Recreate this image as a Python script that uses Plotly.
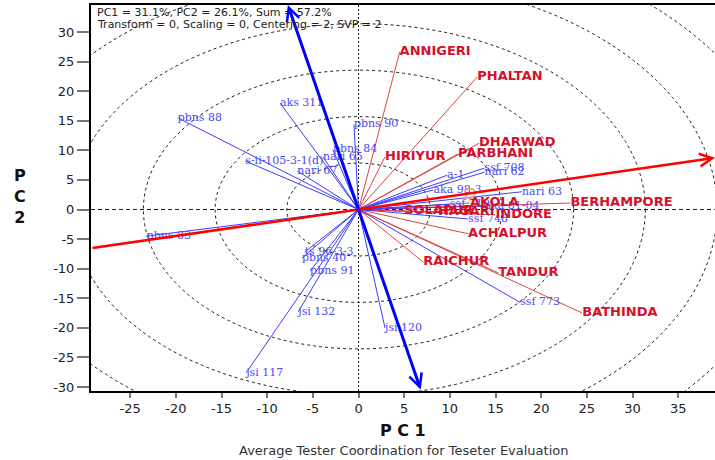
import plotly.graph_objects as go

# ---- GGE biplot scores (PC1, PC2) ----
env_names = ["ANNIGERI", "PHALTAN", "DHARWAD", "HIRIYUR", "PARBHANI", "BERHAMPORE",
             "AKOLA", "INDORE", "SOLAPUR", "HAGARI", "ACHALPUR", "RAICHUR",
             "TANDUR", "BATHINDA"]
env_pc1 = [4.5, 13.0, 13.2, 2.9, 10.9, 23.2, 12.2, 15.0, 5.0, 8.7, 12.0, 7.1, 15.3, 24.5]
env_pc2 = [26.6, 22.4, 11.2, 8.9, 9.4, 1.1, 1.1, -0.9, -0.25, -0.4, -4.1, -8.9, -10.7, -17.5]

gen_names = ["pbns 88", "aks 311", "pbns 90", "pbns 84", "nari 65", "s-ii-105-3-1(d)",
             "nari 67", "a-1", "ssf 708", "nari 62", "aka 98-3", "nari 63", "ssf 710",
             "aka 81-04", "ssf 748", "pbns 83", "ts 96-3-3", "pbns 40", "pbns 91",
             "jsi 132", "jsi 120", "jsi 117", "ssf 773"]
gen_pc1 = [-19.8, -8.6, -0.5, -2.8, -3.9, -12.4, -6.7, 9.7, 13.8, 13.8, 8.2, 17.9, 10.0,
           13.8, 12.0, -23.2, -5.9, -6.2, -5.3, -6.6, 2.9, -12.3, 17.7]
gen_pc2 = [15.5, 18.0, 14.4, 10.1, 8.9, 8.2, 6.5, 5.8, 7.0, 6.3, 3.3, 3.0, 0.9,
           0.6, -1.6, -4.5, -7.2, -8.2, -10.4, -17.3, -20.0, -27.6, -15.7]

# average environment coordinate (defines the ATC abscissa)
avg_env = (12.2, 2.73)

x_ticks = [-25, -20, -15, -10, -5, 0, 5, 10, 15, 20, 25, 30, 35]
y_ticks = [-30, -25, -20, -15, -10, -5, 0, 5, 10, 15, 20, 25, 30]

header = ["PC1 = 31.1%, PC2 = 26.1%, Sum = 57.2%",
          "Transform = 0, Scaling = 0, Centering = 2, SVP = 2"]

# ---- styling ----
X_RANGE = [-29.29, 39.03]
Y_RANGE = [-30.67, 34.56]
RING_STEP = 7.85
N_RINGS = 7
SANS = "DejaVu Sans"
SERIF = "DejaVu Serif"
ENV_LINE = "#d84444"
ENV_TEXT = "#d7102a"
GEN_LINE = "#3c3cff"
GEN_TEXT = "#4a4af2"
GUIDE = "#1a1a1a"


def spokes(xs, ys):
    px, py = [], []
    for a, b in zip(xs, ys):
        px += [0, a, None]
        py += [0, b, None]
    return px, py


fig = go.Figure()

ex, ey = spokes(env_pc1, env_pc2)
fig.add_trace(go.Scatter(x=ex, y=ey, mode="lines",
                         line=dict(color=ENV_LINE, width=1), hoverinfo="skip"))
gx, gy = spokes(gen_pc1, gen_pc2)
fig.add_trace(go.Scatter(x=gx, y=gy, mode="lines",
                         line=dict(color=GEN_LINE, width=1), hoverinfo="skip"))

fig.add_trace(go.Scatter(x=gen_pc1, y=gen_pc2, mode="text", text=gen_names,
                         textposition="middle right", cliponaxis=False,
                         textfont=dict(family=SERIF, size=11, color=GEN_TEXT)))
fig.add_trace(go.Scatter(x=env_pc1, y=env_pc2, mode="text", text=env_names,
                         textposition="middle right", cliponaxis=False,
                         textfont=dict(family=SANS, size=13, color=ENV_TEXT, weight="bold")))

# average environment marker
fig.add_trace(go.Scatter(x=[avg_env[0]], y=[avg_env[1]], mode="markers",
                         marker=dict(symbol="circle-open", size=10,
                                     line=dict(color="red", width=1.5)),
                         hoverinfo="skip"))

# concentric rings around the biplot origin
shapes = []
for k in range(1, N_RINGS + 1):
    r = RING_STEP * k
    shapes.append(dict(type="circle", xref="x", yref="y", x0=-r, x1=r, y0=-r, y1=r,
                       line=dict(color=GUIDE, width=1, dash="3px,3px"), layer="below"))
shapes.append(dict(type="line", xref="x", yref="y", x0=X_RANGE[0], x1=X_RANGE[1], y0=0, y1=0,
                   line=dict(color=GUIDE, width=1, dash="4px,3px"), layer="below"))
shapes.append(dict(type="line", xref="x", yref="y", x0=0, x1=0, y0=Y_RANGE[0], y1=Y_RANGE[1],
                   line=dict(color=GUIDE, width=1, dash="2px,2px"), layer="below"))

# ATC axes: abscissa through the average environment, ordinate perpendicular to it
slope = avg_env[1] / avg_env[0]
annotations = [
    dict(x=X_RANGE[1], y=X_RANGE[1] * slope, ax=X_RANGE[0], ay=X_RANGE[0] * slope,
         xref="x", yref="y", axref="x", ayref="y", text="", showarrow=True,
         arrowhead=5, arrowsize=1.0, arrowwidth=2.5, arrowcolor="red", standoff=0),
    dict(x=-slope * Y_RANGE[1], y=Y_RANGE[1], ax=-slope * Y_RANGE[0], ay=Y_RANGE[0],
         xref="x", yref="y", axref="x", ayref="y", text="", showarrow=True,
         arrowhead=5, startarrowhead=5, arrowside="end+start",
         arrowsize=0.85, startarrowsize=0.85, arrowwidth=3, arrowcolor="#0000ff",
         standoff=0, startstandoff=0),
]

# header lines inside the plot frame
for i, line in enumerate(header):
    annotations.append(dict(xref="paper", yref="paper", x=0, y=1, xshift=4, yshift=-7 - 12 * i,
                            xanchor="left", yanchor="middle", text=line, showarrow=False,
                            font=dict(family=SANS, size=11, color="#222222")))

annotations += [
    dict(xref="paper", yref="paper", x=0.5, y=0, yshift=-39, xanchor="center", yanchor="middle",
         text="P C 1", showarrow=False,
         font=dict(family=SANS, size=16, color="#111111", weight="bold")),
    dict(xref="paper", yref="paper", x=0.5, y=0, yshift=-59, xanchor="center", yanchor="middle",
         text="Average Tester Coordination for Teseter Evaluation", showarrow=False,
         font=dict(family=SANS, size=13, color="#333333")),
    dict(xref="paper", yref="paper", x=0, y=0.5026, xshift=-71, xanchor="center", yanchor="middle",
         text="P<br>C<br>2", showarrow=False,
         font=dict(family=SANS, size=16, color="#111111", weight="bold")),
]

fig.update_layout(
    width=715, height=460,
    margin=dict(l=91, r=0, t=5, b=69),
    paper_bgcolor="white", plot_bgcolor="white",
    showlegend=False,
    shapes=shapes, annotations=annotations,
    xaxis=dict(range=X_RANGE, tickvals=x_ticks, ticktext=[str(v) for v in x_ticks],
               ticks="outside", ticklen=5, tickwidth=1.5, tickcolor="#777777",
               showline=True, linecolor="black", linewidth=1.5, mirror=True,
               showgrid=False, zeroline=False,
               tickfont=dict(family=SANS, size=13, color="#222222")),
    yaxis=dict(range=Y_RANGE, tickvals=y_ticks, ticktext=[str(v) for v in y_ticks],
               ticks="outside", ticklen=12, tickwidth=1.5, tickcolor="#777777",
               showline=True, linecolor="black", linewidth=2,
               showgrid=False, zeroline=False,
               tickfont=dict(family=SANS, size=13, color="#222222")),
)

fig.write_html("out.html")
